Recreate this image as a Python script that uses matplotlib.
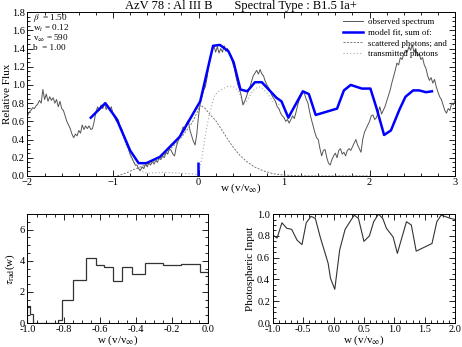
import numpy as np
import matplotlib
matplotlib.use("Agg")
import matplotlib.pyplot as plt
from matplotlib.ticker import MultipleLocator

plt.rcParams['font.family'] = ['Liberation Serif', 'DejaVu Serif']
plt.rcParams['mathtext.fontset'] = 'stix'
plt.rcParams['axes.unicode_minus'] = True

# observed spectrum, sampled every 0.02 in w from -2 to 3
obs_flux = [
    0.66, 0.70, 0.72, 0.75, 0.74, 0.77, 0.79, 0.83, 0.80, 0.95,
    0.84, 0.90, 0.82, 0.87, 0.83, 0.86, 0.80, 0.84, 0.76, 0.82,
    0.74, 0.72, 0.66, 0.60, 0.56, 0.52, 0.46, 0.42, 0.46, 0.44,
    0.50, 0.47, 0.56, 0.51, 0.55, 0.52, 0.55, 0.51, 0.52, 0.60,
    0.70, 0.76, 0.72, 0.78, 0.74, 0.80, 0.73, 0.77, 0.72, 0.76,
    0.68, 0.64, 0.60, 0.62, 0.55, 0.52, 0.46, 0.42, 0.34, 0.30,
    0.24, 0.20, 0.16, 0.12, 0.12, 0.08, 0.06, 0.10, 0.08, 0.13,
    0.10, 0.14, 0.12, 0.16, 0.13, 0.17, 0.15, 0.20, 0.18, 0.22,
    0.20, 0.26, 0.24, 0.30, 0.28, 0.24, 0.22, 0.32, 0.38, 0.44,
    0.48, 0.54, 0.50, 0.58, 0.61, 0.50, 0.44, 0.38, 0.34, 0.46,
    0.66, 0.80, 0.87, 0.94, 0.98, 1.08, 1.22, 1.30, 1.38, 1.43,
    1.36, 1.42, 1.35, 1.40, 1.36, 1.43, 1.37, 1.40, 1.34, 1.32,
    1.24, 1.18, 1.08, 1.00, 0.95, 0.88, 0.78, 0.82, 0.87, 0.93,
    0.97, 1.04, 1.10, 1.13, 1.16, 1.12, 1.17, 1.12, 1.10, 1.04,
    1.00, 0.97, 0.93, 0.88, 0.85, 0.82, 0.76, 0.74, 0.69, 0.66,
    0.64, 0.60, 0.62, 0.58, 0.62, 0.66, 0.63, 0.70, 0.78, 0.84,
    0.88, 0.93, 0.90, 0.84, 0.80, 0.70, 0.62, 0.55, 0.48, 0.42,
    0.40, 0.30, 0.22, 0.28, 0.29, 0.20, 0.14, 0.12, 0.18, 0.22,
    0.25, 0.20, 0.28, 0.30, 0.24, 0.26, 0.22, 0.28, 0.30, 0.28,
    0.32, 0.36, 0.40, 0.34, 0.30, 0.26, 0.40, 0.48, 0.52, 0.56,
    0.60, 0.66, 0.67, 0.62, 0.64, 0.70, 0.76, 0.68, 0.72, 0.76,
    0.82, 0.88, 0.94, 1.02, 1.09, 1.16, 1.24, 1.22, 1.30, 1.28,
    1.34, 1.38, 1.36, 1.42, 1.38, 1.44, 1.36, 1.40, 1.32, 1.34,
    1.28, 1.30, 1.22, 1.18, 1.10, 1.05, 1.08, 1.02, 1.06, 0.98,
    0.92, 0.87, 0.84, 0.78, 0.72, 0.69, 0.74, 0.72, 0.80, 0.78,
    0.83]
obs_w = np.linspace(-2, 3, len(obs_flux))

# model fit (sum)
fit_w = [-1.26, -1.09, -0.96, -0.80, -0.70, -0.61, -0.45, -0.22, 0.02, 0.17,
         0.25, 0.35, 0.41, 0.49, 0.57, 0.66, 0.74, 0.91, 0.97, 1.05,
         1.22, 1.29, 1.37, 1.62, 1.70, 1.78, 1.91, 2.01, 2.08, 2.17,
         2.25, 2.35, 2.42, 2.51, 2.58, 2.66, 2.73]
fit_flux = [0.64, 0.80, 0.63, 0.28, 0.14, 0.14, 0.21, 0.43, 0.82, 1.43,
            1.44, 1.37, 1.25, 0.95, 0.93, 1.03, 1.03, 0.86, 0.82, 0.64,
            0.93, 0.90, 0.67, 0.74, 0.94, 1.00, 0.96, 0.96, 0.75, 0.45,
            0.50, 0.73, 0.87, 0.94, 0.94, 0.92, 0.93]

# scattered photons
scat_w = [-0.95, -0.85, -0.76, -0.65, -0.57, -0.45, -0.37, -0.25, -0.18, -0.10,
          -0.06, -0.02, 0.02, 0.08, 0.13, 0.20, 0.29, 0.35, 0.41, 0.48,
          0.56, 0.65, 0.76, 0.87, 0.97, 1.10, 1.30, 2.00]
scat_flux = [0.0, 0.03, 0.07, 0.11, 0.14, 0.19, 0.26, 0.37, 0.45, 0.55,
             0.61, 0.69, 0.78, 0.74, 0.68, 0.61, 0.48, 0.39, 0.31, 0.23,
             0.16, 0.10, 0.055, 0.025, 0.012, 0.004, 0.0, 0.0]

# transmitted photons
trans_w = [-1.26, -1.09, -0.96, -0.80, -0.70, -0.60, -0.40, -0.20, -0.05, 0.0,
           0.04, 0.08, 0.13, 0.19, 0.25, 0.35, 0.41, 0.47, 0.52, 0.56,
           0.64, 0.70, 0.74, 0.81, 0.87, 0.95]
trans_flux = [0.64, 0.80, 0.63, 0.22, 0.06, 0.03, 0.04, 0.03, 0.02, 0.01,
              0.20, 0.45, 0.69, 0.89, 0.94, 0.99, 0.98, 0.93, 0.80, 0.82,
              0.94, 0.98, 0.97, 0.90, 0.82, 0.78]

rest_w = [-0.01]
rest_h = 0.15

# optical depth histogram
tau_edges = [-1.0, -0.985, -0.97, -0.83, -0.81, -0.75, -0.675, -0.62, -0.575,
             -0.525, -0.475, -0.42, -0.35, -0.25, -0.15, -0.045, 0.0]
tau_vals = [1.1, 0.55, 0.0, 0.2, 1.5, 2.75, 4.2, 3.75, 3.6, 2.7, 3.6, 3.15,
            3.85, 3.7, 3.8, 3.3]

# photospheric input
phot_w = [-1.0, -0.93, -0.85, -0.77, -0.69, -0.60, -0.52, -0.45, -0.37, -0.30,
          -0.22, -0.09, -0.05, 0.02, 0.10, 0.19, 0.27, 0.34, 0.41, 0.50,
          0.59, 0.66, 0.74, 0.81, 0.87, 0.98, 1.05, 1.20, 1.28, 1.36,
          1.62, 1.70, 1.77, 1.93, 2.00]
phot_in = [0.81, 0.78, 0.92, 0.87, 0.86, 0.76, 0.72, 0.92, 0.98, 0.96,
           0.79, 0.55, 0.41, 0.31, 0.67, 0.86, 0.93, 0.99, 0.96, 0.75,
           0.80, 0.93, 1.00, 0.96, 0.87, 0.79, 0.64, 0.93, 0.90, 0.66,
           0.73, 0.93, 0.99, 0.96, 0.95]

tfs = 7.5   # tick labels
lfs = 8     # axis labels
xlab = r'w (v/v$_\infty$)'


def style(ax, xmaj, xmin, ymaj, ymin):
    ax.xaxis.set_major_locator(MultipleLocator(xmaj))
    ax.xaxis.set_minor_locator(MultipleLocator(xmin))
    ax.yaxis.set_major_locator(MultipleLocator(ymaj))
    ax.yaxis.set_minor_locator(MultipleLocator(ymin))
    ax.tick_params(which='both', direction='in', top=True, right=True,
                   labelsize=tfs, width=0.6)
    ax.tick_params(axis='x', pad=1.5)
    ax.tick_params(axis='y', pad=2)
    ax.tick_params(which='major', length=4)
    ax.tick_params(which='minor', length=2)
    for s in ax.spines.values():
        s.set_linewidth(0.7)


fig = plt.figure(figsize=(4.62, 3.47), dpi=100)

ax = fig.add_axes([0.0595, 0.493, 0.9255, 0.472])
ax.plot(obs_w, obs_flux, color='#555555', lw=0.7, label='observed spectrum')
ax.plot(fit_w, fit_flux, color='#0000ff', lw=1.8, label='model fit, sum of:')
ax.plot(scat_w, scat_flux, color='#777777', lw=0.7, ls=(0, (2, 1.5)),
        label='scattered photons; and')
ax.plot(trans_w, trans_flux, color='#aaaaaa', lw=0.8, ls=(0, (1, 2)),
        label='transmitted photons', zorder=1)
ax.vlines(rest_w, 0, rest_h, color='#0000ff', lw=1.8)
ax.set_xlim(-2, 3)
ax.set_ylim(0, 1.8)
style(ax, 1, 0.2, 0.2, 0.05)
ax.yaxis.set_major_formatter(plt.FormatStrFormatter('%.1f'))
ax.set_ylabel('Relative Flux', fontsize=lfs)
ax.yaxis.set_label_coords(-0.036, 0.5)
ax.set_xlabel(xlab, fontsize=lfs)
ax.xaxis.set_label_coords(0.5, -0.035)
ax.set_title('AzV 78 : Al III B       Spectral Type : B1.5 Ia+', fontsize=9, pad=1)
params = [r'$\beta$  = 1.50', r'w$_t$ = 0.12', r'v$_\infty$ = 590', 'b  = 1.00']
params_y = [0.966, 0.902, 0.840, 0.780]
for t, yy in zip(params, params_y):
    ax.text(0.013, yy, t, transform=ax.transAxes, fontsize=6.6,
            va='center', ha='left')
ax.legend(loc='upper left', bbox_to_anchor=(0.738, 0.965), frameon=False,
          fontsize=6.3, handlelength=2.25, handletextpad=0.55, labelspacing=0.3,
          borderaxespad=0, borderpad=0)

ax2 = fig.add_axes([0.0595, 0.069, 0.391, 0.314])
ax2.stairs(tau_vals, tau_edges, color='#333333', lw=0.9)
ax2.set_xlim(-1, 0)
ax2.set_ylim(0, 7)
style(ax2, 0.2, 0.05, 2, 0.5)
ax2.xaxis.set_major_formatter(plt.FormatStrFormatter('%.1f'))
ax2.set_ylabel(r'$\tau_{\rm rad}$(w)', fontsize=lfs)
ax2.yaxis.set_label_coords(-0.06, 0.5)
ax2.set_xlabel(xlab, fontsize=lfs)
ax2.xaxis.set_label_coords(0.5, -0.095)

ax3 = fig.add_axes([0.5905, 0.069, 0.3945, 0.314])
ax3.plot(phot_w, phot_in, color='#333333', lw=0.8)
ax3.set_xlim(-1, 2)
ax3.set_ylim(0, 1)
style(ax3, 0.5, 0.1, 0.2, 0.05)
ax3.xaxis.set_major_formatter(plt.FormatStrFormatter('%.1f'))
ax3.yaxis.set_major_formatter(plt.FormatStrFormatter('%.1f'))
ax3.set_ylabel('Photospheric Input', fontsize=lfs)
ax3.yaxis.set_label_coords(-0.097, 0.5)
ax3.set_xlabel(xlab, fontsize=lfs)
ax3.xaxis.set_label_coords(0.5, -0.095)

fig.savefig('out.png', dpi=100)
